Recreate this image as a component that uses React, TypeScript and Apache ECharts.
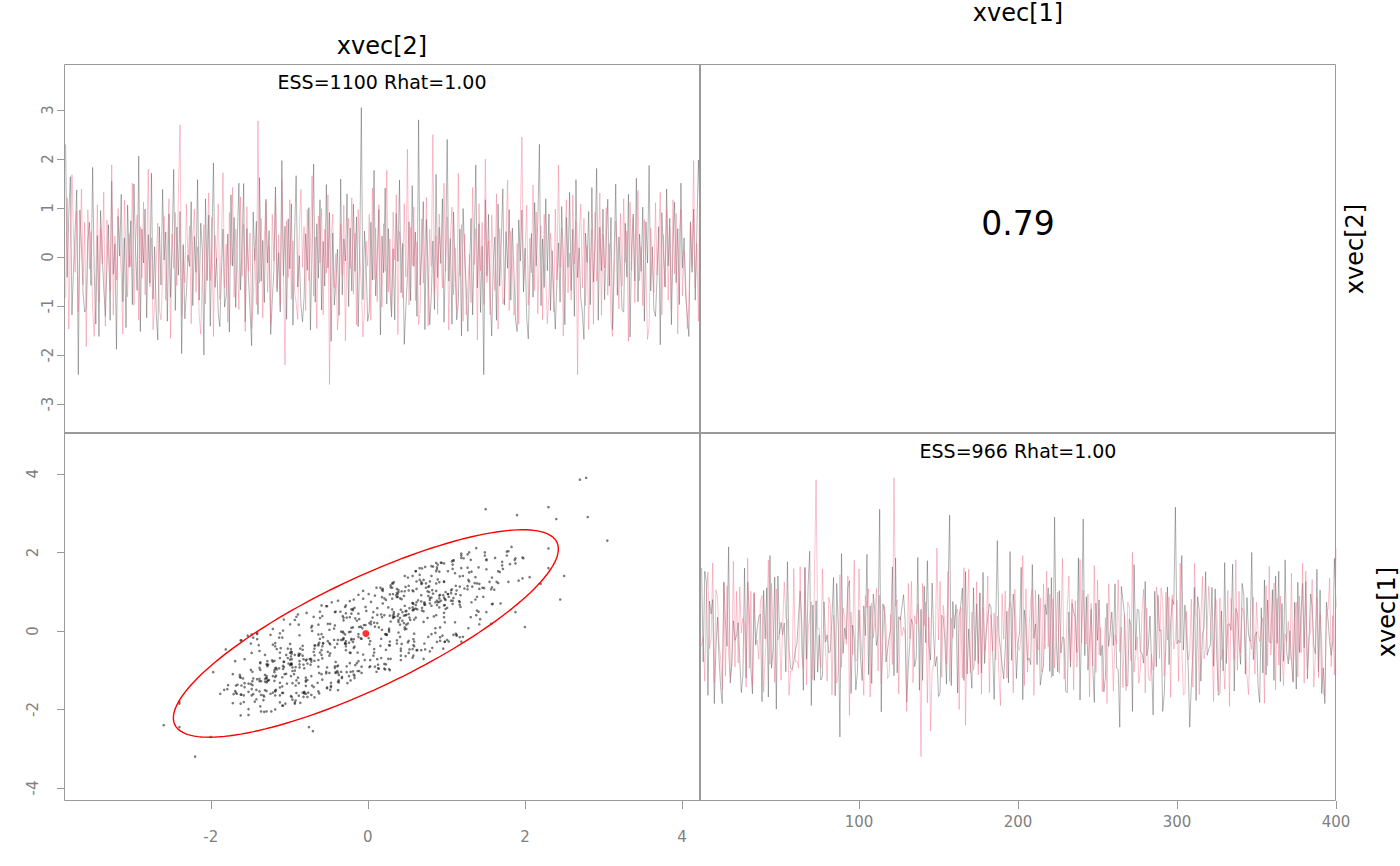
import React, { useEffect, useRef } from "react";
import * as echarts from "echarts";

const ITER_MAX = 400;

// chain 1 (grey) draws of xvec[2]
const chain1Xvec2 = [
  2.30,-0.41,0.87,1.64,-1.18,-0.23,0.52,1.37,-2.40,0.96,0.18,-0.74,-1.12,-1.05,0.33,0.71,-0.58,1.83,-0.26,-1.37,
  0.44,-1.62,0.95,0.08,-0.63,-1.21,-0.17,0.66,-1.29,1.55,-0.35,0.27,-1.88,0.83,0.02,1.28,-0.91,0.39,-1.44,1.06,
  -0.21,0.74,-0.97,1.49,0.13,-0.68,2.06,-1.52,0.57,-0.12,0.98,-1.24,0.46,-0.53,1.71,-0.86,0.21,-1.16,-1.69,0.62,
  -0.57,1.38,-0.06,0.51,-1.31,0.88,-0.82,0.29,1.79,-1.09,0.61,-0.37,0.93,-1.97,0.24,-1.26,-0.72,0.04,-0.19,1.13,
  -0.99,0.42,-0.31,1.58,-0.88,0.69,0.14,-2.00,1.19,-0.48,0.86,-1.41,0.31,1.92,-0.62,-0.03,-1.13,-1.42,-0.34,0.57,
  -1.02,-0.79,0.47,-1.53,1.27,-0.18,0.81,-1.03,0.38,1.51,-0.67,0.23,1.50,-1.32,0.58,-0.41,-1.07,-1.81,0.92,-0.07,
  0.73,-1.17,1.62,-0.49,0.34,-0.93,1.18,-0.12,0.54,-1.58,-0.87,-0.28,1.43,-0.71,0.09,-1.12,1.97,-0.38,0.63,-1.27,
  0.78,-0.24,1.09,-1.39,0.42,1.66,-0.61,0.03,-0.98,-1.32,-0.83,0.48,-0.27,1.01,-1.49,0.19,1.90,-0.92,0.68,-0.43,
  1.17,-1.08,0.32,-0.59,1.48,-0.22,0.91,-1.72,0.49,-0.98,-0.52,0.16,-1.19,1.59,-0.77,0.37,-0.08,1.29,-1.01,0.59,
  -0.69,1.08,-0.29,0.82,-1.42,0.12,3.05,-0.87,0.53,-0.16,-1.31,-1.11,0.71,-0.47,1.77,-0.79,0.01,0.97,-1.59,0.43,
  -0.32,1.41,-0.96,0.58,-0.63,-1.22,0.17,-1.28,0.89,-0.09,1.57,-0.73,0.28,-1.78,-1.04,-0.39,0.72,-0.89,1.46,-0.19,
  0.51,-1.21,2.80,-0.57,0.11,1.13,-1.48,0.77,-0.31,-1.38,-0.81,0.33,-1.07,1.69,-0.42,0.61,-0.13,1.19,-1.33,0.02,
  2.40,-0.49,0.38,-1.37,0.92,-0.21,-1.28,-0.93,0.57,-1.61,0.99,0.07,-0.68,-1.52,-0.33,0.79,-1.18,0.27,1.88,-0.63,
  0.68,-1.13,0.22,-2.40,1.17,-0.38,0.87,-0.79,-1.61,-0.11,0.41,-1.29,1.08,-0.59,0.31,1.39,-0.98,0.52,-0.23,0.97,
  -0.88,0.59,-0.32,-1.29,-1.52,0.76,-0.08,0.96,-0.71,0.18,-1.23,-1.67,-0.39,0.48,-0.82,1.11,-0.18,0.73,2.30,-0.99,
  0.37,-0.62,1.19,-0.28,0.88,-1.09,0.13,-0.75,-1.47,-0.51,0.29,-0.92,1.03,-0.02,-1.38,0.81,-0.21,1.32,-0.68,0.57,
  -1.21,1.58,-0.42,0.19,-0.83,-1.12,-1.68,0.49,-0.11,0.93,-0.97,1.42,-0.51,0.27,1.81,-1.29,0.61,-0.28,0.98,-0.87,
  0.32,1.18,-0.59,0.81,-1.48,0.03,1.49,-0.78,0.41,-0.22,-1.09,-1.12,0.69,-0.41,1.28,-1.63,0.23,0.88,-0.49,1.61,
  -0.91,0.47,-0.29,1.02,-1.31,0.72,-0.12,1.87,-0.69,0.21,-1.08,-1.21,-0.38,0.62,-1.79,0.91,0.08,-0.61,1.39,-0.18,
  0.79,-1.38,0.28,1.12,-0.52,0.58,-0.97,1.51,-0.22,0.39,-0.81,-1.17,-1.62,0.72,-0.31,0.98,-0.88,0.52,1.98,0.91,
];

// chain 1 (grey) draws of xvec[1]
const chain1Xvec1 = [
  1.60,-0.79,1.52,1.25,-1.64,0.76,0.43,0.80,-1.85,-0.45,0.35,-0.72,-1.44,-1.85,1.24,0.23,-0.39,2.14,-1.33,-0.82,
  0.26,-0.24,-0.12,0.21,-0.74,-1.57,-1.14,1.60,-1.20,1.25,0.49,-0.97,-1.60,0.95,-0.34,0.07,0.36,0.43,-1.80,1.03,
  -0.20,1.10,-1.68,1.92,-0.95,-0.45,1.37,-1.99,1.40,-0.08,0.22,-0.10,0.20,-1.04,1.76,-0.45,-0.96,-0.98,-0.77,-0.49,
  -0.31,0.40,1.02,0.19,-1.51,1.62,-0.72,1.16,2.03,-1.90,0.66,-1.26,0.77,-1.05,-0.10,-1.25,-1.15,0.74,-0.28,-0.10,
  -0.56,-0.51,0.34,1.36,-1.65,1.21,0.09,-2.70,1.97,-0.57,0.07,-0.21,1.10,1.28,-1.59,0.15,-0.17,-1.50,-1.04,0.53,
  -0.69,-1.26,0.64,-0.12,1.95,-1.11,0.64,-1.34,0.94,0.48,-0.37,-0.09,3.10,-2.06,0.69,0.49,-0.79,-0.47,-0.16,0.07,
  1.63,-1.14,1.86,-1.07,0.36,0.28,0.61,0.92,0.28,-1.81,-0.93,-0.26,0.30,0.13,-0.91,-0.69,1.87,-1.51,0.55,-1.26,
  1.14,-0.30,1.79,-0.36,-0.74,1.22,-0.20,-0.90,-0.65,-1.67,-1.57,0.40,0.34,-0.23,-1.35,1.02,2.95,-1.39,0.75,0.06,
  0.67,-1.58,0.39,0.65,1.09,-1.26,1.51,-1.10,0.05,-0.83,-1.46,1.10,-0.76,0.69,-0.83,0.97,-1.07,1.49,-0.83,-0.07,
  0.36,0.69,0.61,-0.43,-1.74,0.20,2.30,-0.11,-0.47,-0.87,-1.22,-0.44,0.50,-1.32,2.02,-0.75,0.94,0.35,-1.21,-0.33,
  -0.02,1.62,-1.75,0.53,0.16,-0.75,-0.69,-0.86,1.69,-0.19,0.18,-0.86,0.93,-1.38,-1.09,-0.90,0.67,0.42,1.10,-1.03,
  1.36,-1.15,2.90,-0.16,-1.04,1.03,-0.56,-0.15,-0.20,-1.54,-1.57,0.48,-0.92,0.70,0.48,0.34,-0.55,1.86,-1.76,0.20,
  2.85,-0.63,0.87,-0.99,-0.25,0.55,-0.90,-1.82,0.71,-0.24,0.79,-0.63,-0.37,-1.55,-1.17,0.70,-0.39,-0.02,0.48,-0.37,
  1.20,-0.95,-0.98,-2.45,1.13,0.77,0.40,-1.40,-1.39,0.30,0.16,-2.05,1.69,-0.49,0.55,0.52,-0.53,-0.56,-0.82,1.26,
  -0.63,-0.39,0.38,-0.85,-2.14,1.01,-0.91,0.91,0.00,0.03,-2.05,-1.60,-0.33,1.12,-0.86,0.22,0.80,0.67,3.15,-0.33,
  -0.24,-0.30,1.92,-0.49,0.66,-0.17,-0.86,-2.45,-1.38,-0.53,1.11,-1.77,0.87,0.51,-1.28,-0.08,0.08,1.51,-0.62,-0.46,
  -0.35,1.11,-0.90,1.07,-0.63,-1.64,-1.57,0.51,-1.02,1.74,-0.83,0.17,0.18,0.02,1.70,-1.53,0.57,0.45,-0.28,-0.85,
  1.21,0.91,-1.10,0.85,-0.09,-0.26,2.00,-0.73,-0.15,-0.02,-1.41,-1.82,0.59,-1.07,1.30,-1.12,0.79,-0.28,-0.31,1.05,
  -1.26,1.40,-0.32,1.52,-1.29,0.70,-0.77,1.81,-0.53,-0.84,0.01,-0.78,-1.29,0.73,-1.48,1.24,-0.55,0.49,1.21,-0.43,
  1.26,-1.22,-0.27,0.94,0.63,-0.36,-0.58,1.57,-1.04,1.04,-1.59,-0.94,-1.85,0.73,0.27,-0.27,-0.62,-0.25,1.85,0.60,
];

// chain 2 (pink) draws of xvec[2]
const chain2Xvec2 = [
  -0.83,1.21,-1.47,0.36,1.68,0.42,-0.31,0.94,-1.12,0.18,1.39,-0.57,0.71,-1.83,0.97,-0.24,0.52,-1.04,-1.62,-0.38,
  1.07,-0.92,0.58,-0.14,1.33,-1.41,0.76,0.04,-0.69,1.88,-1.18,0.43,-0.47,0.99,0.28,-0.34,-1.57,1.16,0.09,-0.81,
  0.48,-0.19,1.51,-0.98,0.31,0.86,-1.29,0.62,-0.43,1.12,-0.77,-0.05,1.79,-0.61,0.39,-1.48,-0.96,-0.13,0.69,-1.07,
  -1.28,-0.42,0.83,-0.88,0.14,1.19,-1.66,0.47,-0.23,0.91,-0.58,1.37,2.70,-1.21,0.27,-0.52,1.08,-0.09,0.63,-1.36,
  0.37,0.98,-0.72,0.21,-1.18,-1.57,-0.27,0.66,-0.96,0.12,1.31,-0.48,0.81,-1.62,0.44,-0.06,1.09,-0.87,0.29,1.72,
  -0.63,0.26,-1.33,0.91,-0.17,1.42,-0.82,0.57,0.01,-1.07,1.23,-0.39,0.68,-1.52,1.03,-0.28,0.49,-1.46,-0.94,0.17,
  -0.97,2.78,-0.53,0.79,-1.24,0.38,1.13,-0.72,0.22,-1.36,0.87,-0.08,1.29,-0.64,0.46,-0.99,1.58,-0.31,-2.20,0.74,
  -0.42,1.17,-0.86,0.33,-0.70,-0.93,-1.27,0.51,1.38,-0.21,0.62,-1.09,0.97,-0.48,0.23,1.66,-0.79,0.41,-1.46,0.84,
  -0.12,0.99,-1.18,0.57,-0.33,1.27,-2.60,0.39,0.88,-0.62,0.07,-1.49,-0.97,0.68,-0.37,1.06,-1.71,0.26,0.79,-0.24,
  1.21,-0.76,0.49,-1.38,0.97,0.03,-0.58,-1.63,-1.08,0.32,-0.18,0.87,-1.29,1.41,-0.46,0.59,-0.91,1.07,0.24,-1.02,
  0.68,-0.29,1.77,-0.71,0.37,-1.19,0.92,-0.06,1.27,-1.58,0.52,0.16,-0.83,1.09,-0.41,2.20,-0.98,0.61,-0.17,1.02,
  -0.89,0.31,-1.38,-1.12,0.78,-0.53,0.09,1.22,-1.41,0.57,-0.19,2.50,-0.72,0.43,-1.17,0.88,0.02,-0.63,1.51,-0.29,
  0.82,-1.49,0.37,1.02,-0.77,0.19,-1.08,1.71,-0.38,0.66,-1.31,0.47,-1.18,-0.59,0.06,-0.93,1.42,-0.16,0.58,-1.69,
  1.09,-0.28,0.71,-0.97,2.00,-0.52,0.33,-1.18,0.86,-0.03,-0.68,1.29,-1.47,0.58,-0.12,-0.96,-0.81,0.42,1.57,-1.09,
  0.53,-0.17,-1.19,-0.86,0.28,-1.37,0.77,2.45,-0.58,0.11,1.06,-0.98,0.39,-0.32,1.47,-0.68,0.92,-1.16,0.17,0.64,
  -1.28,0.87,-0.42,-1.36,-0.79,0.48,-0.04,-1.12,0.98,-0.47,1.88,-0.21,0.59,-1.61,0.32,1.17,-0.73,0.08,-0.88,1.27,
  -0.14,0.72,-2.40,0.41,1.08,-0.63,0.79,-0.99,0.23,-1.48,-0.28,0.57,-1.37,0.91,-0.49,0.12,1.31,-1.19,0.47,-0.22,
  1.01,-0.78,0.27,-1.29,-1.62,-0.38,0.73,0.18,-1.06,0.89,-0.59,1.19,-0.11,0.53,-1.72,1.12,-0.27,0.81,-0.93,0.39,
  1.36,-0.48,0.21,-0.99,0.77,-0.23,-1.68,-1.41,0.59,0.04,-0.72,1.11,-0.37,0.29,1.32,-1.18,0.46,-0.61,0.97,-0.88,
  0.61,-1.08,1.17,-0.34,0.89,-1.57,0.42,0.97,-0.79,0.12,-0.51,-1.46,-0.98,0.69,-0.19,1.97,-0.63,0.28,-1.31,2.30,
];

// chain 2 (pink) draws of xvec[1]
const chain2Xvec1 = [
  -0.38,-0.15,-1.28,0.91,1.50,-0.45,-0.18,1.73,-1.32,1.05,0.87,-0.32,-0.71,-1.50,1.25,-1.15,1.15,-0.61,-1.19,-0.88,
  1.77,-0.92,1.01,-0.82,1.13,-0.05,0.33,0.17,-1.43,1.85,-0.95,1.01,-1.40,0.99,-0.37,-0.23,-0.72,0.76,0.90,-1.55,
  -0.64,0.09,1.80,-0.85,1.21,-0.05,-1.31,1.07,-0.23,-0.07,-1.25,0.15,1.25,0.33,0.28,-1.64,-1.02,-1.02,1.59,-0.78,
  -0.77,-0.94,1.64,-0.58,-0.96,1.60,-1.37,0.04,0.35,0.74,-1.24,1.37,3.85,0.05,0.06,-0.93,1.58,0.11,-0.49,-1.28,
  0.86,0.66,-1.63,0.40,-0.31,-1.33,-1.05,1.43,-0.93,0.58,0.35,-0.34,1.40,-2.15,0.48,-0.60,1.80,-0.77,-0.71,1.58,
  -0.09,-0.71,-1.64,0.90,0.59,1.07,-1.68,0.71,-0.18,0.29,1.08,-1.02,0.91,-1.34,-0.27,0.65,0.16,-1.21,-1.10,0.42,
  -0.86,3.90,0.63,0.79,-1.60,0.38,-0.12,0.09,-0.08,-2.05,1.21,-0.20,1.26,-1.32,0.39,0.17,0.68,-0.05,-3.20,1.21,
  0.14,0.74,-1.83,0.35,-2.55,-1.01,-0.86,-0.29,2.11,-0.23,1.26,-1.18,0.65,0.18,-0.85,1.52,-1.29,0.33,-0.17,0.37,
  0.44,0.56,-2.00,0.60,-1.20,1.61,-2.40,0.23,1.57,-1.07,0.48,-0.99,-0.72,1.25,-1.12,0.96,-1.61,0.60,-0.52,-0.03,
  1.40,-1.57,0.41,-0.51,0.46,-0.74,0.38,-1.17,-1.90,0.94,-0.21,1.02,-1.20,0.49,0.73,0.56,-1.58,1.06,-0.09,-0.45,
  -0.49,-0.09,1.92,-1.39,1.07,-1.05,0.09,0.82,1.06,-1.64,1.03,-0.38,-0.48,0.84,-1.05,1.20,-0.46,1.52,-0.40,0.94,
  -1.19,0.82,-0.94,-0.06,0.99,-1.08,0.11,1.85,-1.23,-0.68,0.56,1.40,-0.78,0.81,-1.50,0.77,-0.92,-0.34,1.82,-0.31,
  1.04,-0.32,-0.32,0.94,-1.68,0.70,-0.89,1.67,-1.06,1.30,-0.61,0.09,-1.54,-0.61,0.34,-1.85,1.20,0.32,-0.21,-1.53,
  -0.10,-0.33,1.30,-0.53,0.10,-1.44,0.43,-1.52,0.73,0.61,-0.76,2.00,-1.04,-0.63,-0.15,-1.33,-0.95,0.54,1.06,-1.58,
  0.58,-1.20,-1.27,-0.59,-1.00,-0.80,1.12,0.80,-0.70,1.10,0.77,-1.15,0.99,-0.23,0.87,-1.69,0.92,-0.46,-0.20,0.78,
  -1.28,1.73,-0.42,-1.63,-1.60,0.50,-0.74,-0.55,0.81,-1.43,1.72,0.44,0.29,-1.62,0.33,1.39,-0.71,-0.46,0.16,1.14,
  0.26,-0.32,-1.80,0.83,0.77,-1.54,0.84,-0.73,-0.48,-1.48,-0.39,1.03,-1.92,0.83,0.03,-0.72,1.81,-1.00,1.01,-0.56,
  0.59,0.46,-0.36,-1.15,-1.62,-0.23,-0.47,0.86,-1.10,0.73,-0.08,-0.27,0.10,0.34,-1.84,1.15,-0.90,1.65,-0.61,-0.04,
  1.22,-1.50,0.83,-0.87,0.89,-0.55,-1.39,-0.08,-0.27,0.24,-0.73,1.47,-1.31,0.24,0.73,-1.17,0.89,-0.55,1.72,-1.33,
  1.52,-0.97,-0.16,-0.02,1.31,-1.43,-0.63,0.85,-1.19,0.41,-0.26,-1.61,-1.66,0.52,0.53,1.34,-0.91,0.39,-1.12,2.10,
];

const varNames = ["xvec[1]", "xvec[2]"];
const essLabels = ["ESS=1100 Rhat=1.00", "ESS=966 Rhat=1.00"];
const corrLabel = "0.79";
const topTraceTicks = [-3, -2, -1, 0, 1, 2, 3];
const scatterXTicks = [-2, 0, 2, 4];
const scatterYTicks = [-4, -2, 0, 2, 4];
const iterTicks = [100, 200, 300, 400];

const FONT = "DejaVu Sans";
const TICK_GRAY = "#999999";
const LABEL_GRAY = "#808080";
const FRAME_GRAY = "#9a9a9a";
const CHAIN1_COLOR = "rgba(60,60,60,0.38)";
const CHAIN2_COLOR = "rgba(240,105,135,0.4)";

function traceData(vals: number[]) {
  return vals.map((v, i) => [i + 1, v]);
}

export default function App() {
  const ref = useRef<HTMLDivElement>(null);
  useEffect(() => {
    if (!ref.current) return;
    const chart = echarts.init(ref.current, null, { renderer: "svg" });

    const xs = [...chain1Xvec2, ...chain2Xvec2];
    const ys = [...chain1Xvec1, ...chain2Xvec1];
    const points = xs.map((x, i) => [x, ys[i]]);
    const n = xs.length;
    const mx = xs.reduce((a, b) => a + b, 0) / n;
    const my = ys.reduce((a, b) => a + b, 0) / n;
    let sxx = 0, syy = 0, sxy = 0;
    for (let i = 0; i < n; i++) {
      sxx += (xs[i] - mx) ** 2;
      syy += (ys[i] - my) ** 2;
      sxy += (xs[i] - mx) * (ys[i] - my);
    }
    const sx = Math.sqrt(sxx / (n - 1));
    const sy = Math.sqrt(syy / (n - 1));
    const rho = sxy / Math.sqrt(sxx * syy);
    const r = Math.sqrt(5.991); // 95% normal contour
    const ellipse: number[][] = [];
    for (let k = 0; k <= 160; k++) {
      const t = (2 * Math.PI * k) / 160;
      ellipse.push([
        mx + r * sx * Math.cos(t),
        my + r * sy * (rho * Math.cos(t) + Math.sqrt(1 - rho * rho) * Math.sin(t)),
      ]);
    }

    const hiddenAxis = {
      axisLine: { show: false, onZero: false },
      axisTick: { show: false },
      axisLabel: { show: false },
      splitLine: { show: false },
    };
    const tickAxis = (ticks: number[], margin: number, length: number, rotate = 0) => ({
      axisLine: { show: false, onZero: false },
      splitLine: { show: false },
      axisTick: { show: true, length, customValues: ticks, lineStyle: { color: TICK_GRAY, width: 1 } },
      axisLabel: {
        show: true,
        customValues: ticks,
        margin,
        rotate,
        color: LABEL_GRAY,
        fontSize: 15,
        fontFamily: FONT,
      },
    });

    const text = (x: number, y: number, s: string, size: number, rotation = 0) => ({
      type: "text",
      x,
      y,
      rotation,
      z: 100,
      silent: true,
      style: {
        text: s,
        fontSize: size,
        fontFamily: FONT,
        fill: "#000",
        align: "center",
        verticalAlign: "middle",
      },
    });

    const option = {
      animation: false,
      backgroundColor: "#ffffff",
      textStyle: { fontFamily: FONT },
      grid: [
        { left: 64, top: 64, width: 636, height: 369 },
        { left: 64, top: 433, width: 636, height: 368 },
        { left: 700, top: 433, width: 636, height: 368 },
      ],
      xAxis: [
        { gridIndex: 0, type: "value", min: 0, max: ITER_MAX, ...hiddenAxis },
        { gridIndex: 1, type: "value", min: -3.87, max: 4.23, ...tickAxis(scatterXTicks, 28, 8) },
        { gridIndex: 2, type: "value", min: 0, max: ITER_MAX, ...tickAxis(iterTicks, 13, 8) },
      ],
      yAxis: [
        { gridIndex: 0, type: "value", min: -3.59, max: 3.94, ...tickAxis(topTraceTicks, 9, 7, 90) },
        { gridIndex: 1, type: "value", min: -4.33, max: 5.04, ...tickAxis(scatterYTicks, 24, 7, 90) },
        { gridIndex: 2, type: "value", min: -4.33, max: 5.04, ...hiddenAxis },
      ],
      series: [
        {
          type: "line", xAxisIndex: 0, yAxisIndex: 0, data: traceData(chain1Xvec2),
          symbol: "none", silent: true, lineStyle: { width: 1, color: CHAIN1_COLOR },
        },
        {
          type: "line", xAxisIndex: 0, yAxisIndex: 0, data: traceData(chain2Xvec2),
          symbol: "none", silent: true, lineStyle: { width: 1, color: CHAIN2_COLOR },
        },
        {
          type: "scatter", xAxisIndex: 1, yAxisIndex: 1, data: points,
          symbol: "circle", symbolSize: 2.6, silent: true,
          itemStyle: { color: "rgba(25,25,25,0.72)" },
        },
        {
          type: "line", xAxisIndex: 1, yAxisIndex: 1, data: ellipse,
          symbol: "none", silent: true, lineStyle: { width: 1.4, color: "#ff0000" }, z: 5,
        },
        {
          type: "scatter", xAxisIndex: 1, yAxisIndex: 1, data: [[mx, my]],
          symbol: "circle", symbolSize: 7, silent: true, itemStyle: { color: "#ff0000" }, z: 6,
        },
        {
          type: "line", xAxisIndex: 2, yAxisIndex: 2, data: traceData(chain1Xvec1),
          symbol: "none", silent: true, lineStyle: { width: 1, color: CHAIN1_COLOR },
        },
        {
          type: "line", xAxisIndex: 2, yAxisIndex: 2, data: traceData(chain2Xvec1),
          symbol: "none", silent: true, lineStyle: { width: 1, color: CHAIN2_COLOR },
        },
      ],
      graphic: [
        {
          type: "rect", z: 50, silent: true,
          shape: { x: 64.5, y: 64.5, width: 1271, height: 736 },
          style: { fill: "none", stroke: FRAME_GRAY, lineWidth: 1 },
        },
        {
          type: "line", z: 50, silent: true,
          shape: { x1: 700, y1: 64, x2: 700, y2: 801 },
          style: { stroke: FRAME_GRAY, lineWidth: 2 },
        },
        {
          type: "line", z: 50, silent: true,
          shape: { x1: 64, y1: 433, x2: 1336, y2: 433 },
          style: { stroke: FRAME_GRAY, lineWidth: 2 },
        },
        text(382, 46, varNames[1], 24),
        text(1018, 13, varNames[0], 24),
        text(1355, 249, varNames[1], 24, Math.PI / 2),
        text(1387, 612, varNames[0], 24, Math.PI / 2),
        text(382, 82, essLabels[0], 19),
        text(1018, 451, essLabels[1], 19),
        text(1018, 223, corrLabel, 33),
      ],
    };
    chart.setOption(option as any);
    return () => chart.dispose();
  }, []);
  return (
    <div
      ref={ref}
      style={{ position: "fixed", left: 0, top: 0, width: 1400, height: 866, background: "#fff" }}
    />
  );
}
